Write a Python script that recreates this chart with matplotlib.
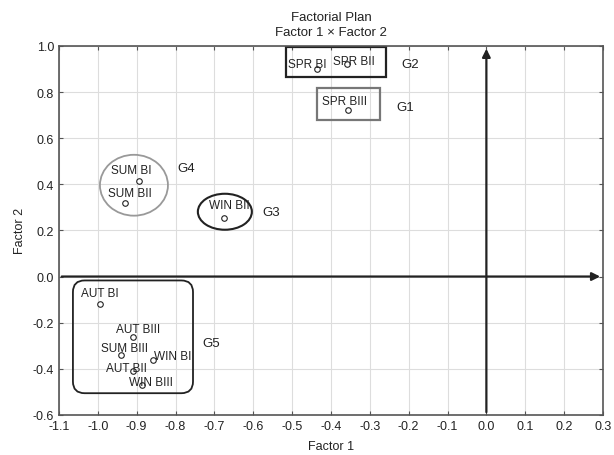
import matplotlib.pyplot as plt
from matplotlib.patches import Rectangle, Ellipse, FancyBboxPatch

plt.rcParams['font.family'] = ['Liberation Sans', 'DejaVu Sans']
plt.rcParams['axes.unicode_minus'] = False

# sample scores on the factorial plan
labels = ['SPR BI', 'SPR BII', 'SPR BIII', 'SUM BI', 'SUM BII', 'WIN BII',
          'AUT BI', 'AUT BIII', 'SUM BIII', 'WIN BI', 'AUT BII', 'WIN BIII']
factor1 = [-0.437, -0.358, -0.357, -0.893, -0.929, -0.675,
           -0.994, -0.910, -0.940, -0.857, -0.909, -0.885]
factor2 = [0.900, 0.922, 0.723, 0.413, 0.320, 0.252,
           -0.117, -0.261, -0.341, -0.362, -0.408, -0.470]

# label offset from the point, in pixels (dx, dy)
offsets = [(-9, 5), (7, 3), (-3, 9), (-8, 11), (4, 10), (5, 13),
           (0, 11), (5, 8), (3, 7), (19, 4), (-7, 3), (8, 3)]

groups = ['G1', 'G2', 'G3', 'G4', 'G5']
group_x = [-0.21, -0.197, -0.554, -0.773, -0.709]
group_y = [0.736, 0.922, 0.281, 0.472, -0.29]

fig = plt.figure(figsize=(6.14, 4.56), dpi=100)
ax = fig.add_axes([0.096, 0.088, 0.886, 0.809])

ax.set_xlim(-1.1, 0.3)
ax.set_ylim(-0.6, 1.0)
ax.set_xticks([round(-1.1 + 0.1 * i, 1) for i in range(15)])
ax.set_yticks([round(-0.6 + 0.2 * i, 1) for i in range(9)])
ax.grid(True, color='#dddddd', lw=0.8)
ax.set_axisbelow(True)
ax.tick_params(direction='in', top=True, right=True, length=3, labelsize=9,
               color='#555555', labelcolor='#222222')
for s in ax.spines.values():
    s.set_color('#555555')
    s.set_linewidth(1.2)

# axes through the origin
ax.annotate('', xy=(0.3, 0), xytext=(-1.1, 0),
            arrowprops=dict(arrowstyle='-|>', lw=1.6, color='#222222', mutation_scale=12))
ax.annotate('', xy=(0, 1.0), xytext=(0, -0.6),
            arrowprops=dict(arrowstyle='-|>', lw=1.6, color='#222222', mutation_scale=12))

ax.plot(factor1, factor2, 'o', ms=4, mfc='white', mec='#222222', mew=0.8, zorder=5)
for lab, x, y, (dx, dy) in zip(labels, factor1, factor2, offsets):
    ax.annotate(lab, (x, y), xytext=(dx, dy), textcoords='offset pixels',
                ha='center', va='center', fontsize=8.5, color='#222222', zorder=6)

# group outlines
ax.add_patch(Rectangle((-0.516, 0.866), 0.258, 0.130, fill=False, ec='#222222', lw=1.6))
ax.add_patch(Rectangle((-0.436, 0.681), 0.162, 0.137, fill=False, ec='#777777', lw=1.6))
ax.add_patch(Ellipse((-0.907, 0.396), 0.175, 0.264, fill=False, ec='#999999', lw=1.3))
ax.add_patch(Ellipse((-0.673, 0.281), 0.139, 0.156, fill=False, ec='#222222', lw=1.5))
ax.add_patch(FancyBboxPatch((-1.064, -0.506), 0.309, 0.489,
                            boxstyle='round,pad=0,rounding_size=0.03',
                            mutation_aspect=1.68, fill=False, ec='#222222', lw=1.3))

for g, x, y in zip(groups, group_x, group_y):
    ax.text(x, y, g, ha='center', va='center', fontsize=9.5, color='#222222')

ax.set_title('Factorial Plan\nFactor 1 × Factor 2', fontsize=9.5, color='#222222',
             pad=8, linespacing=1.3)
ax.set_xlabel('Factor 1', fontsize=9, color='#222222', labelpad=6)
ax.set_ylabel('Factor 2', fontsize=9, color='#222222', labelpad=5)

fig.savefig('out.png', dpi=100)
